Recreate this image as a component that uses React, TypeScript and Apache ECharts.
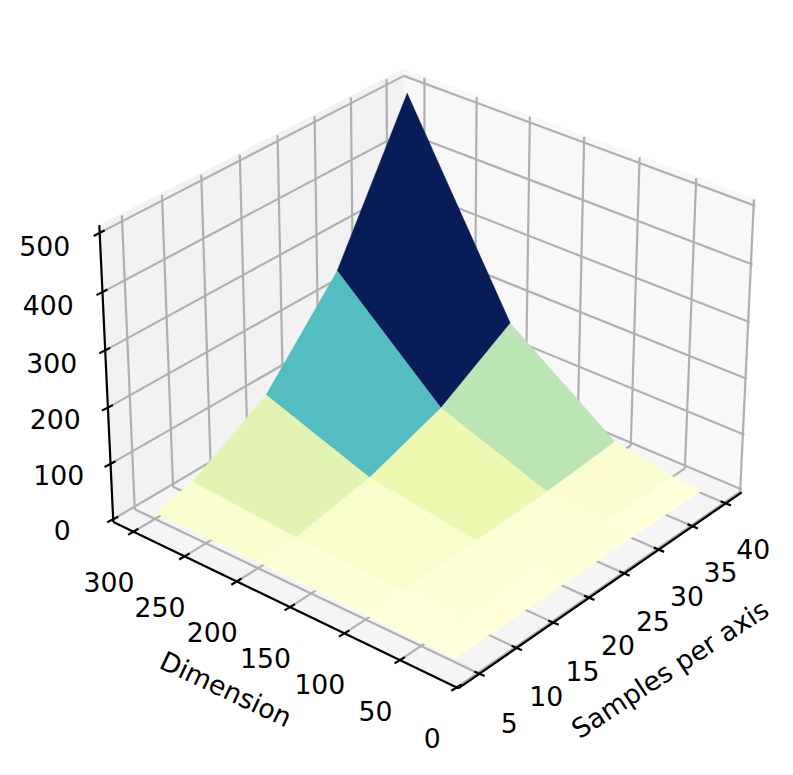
import React, { useEffect, useRef } from "react";
import * as echarts from "echarts";

const sampleValues = [5, 10, 20, 30, 40];
const dimensionValues = [20, 47, 100, 200, 300];
// rows follow dimensionValues, columns follow sampleValues
const timeAtDim20 = [2, 2, 2, 2, 0];
const timeAtDim47 = [2, 3, 3.9, 4.5, 3];
const timeAtDim100 = [3, 3.5, 5.9, 11.2, 21.8];
const timeAtDim200 = [6.7, 7.9, 32.8, 79.9, 158.5];
const timeAtDim300 = [6.4, 21.5, 99.9, 250.1, 498.6];
const heights = [timeAtDim20, timeAtDim47, timeAtDim100, timeAtDim200, timeAtDim300];

const sampleTicks = [5, 10, 15, 20, 25, 30, 35, 40];
const dimensionTicks = [0, 50, 100, 150, 200, 250, 300];
const heightTicks = [0, 100, 200, 300, 400, 500];

const W = 793, H = 775;
const sLo = 2.24, sHi = 42.46, dLo = -1.4, dHi = 320, zLo = -5, zHi = 513;
const O = [458.3, 688.3], X = [741.7, 492.3], Y = [113.3, 522], XY = [404.7, 350];
const XZ = [755.7, 199], YZ = [99.3, 224.3];

// projective map of the unit box, fixed by the box's visible corners
const d1 = [X[0] - XY[0], X[1] - XY[1]], d2 = [Y[0] - XY[0], Y[1] - XY[1]], d3 = [XY[0] - X[0] - Y[0] + O[0], XY[1] - X[1] - Y[1] + O[1]];
const den = d1[0] * d2[1] - d1[1] * d2[0];
const g1 = (d3[0] * d2[1] - d3[1] * d2[0]) / den;
const g2 = (d1[0] * d3[1] - d1[1] * d3[0]) / den;
const g3 = ((1 + g1) * (XZ[0] - X[0]) - (1 + g2) * (YZ[0] - Y[0])) / (YZ[0] - XZ[0]);
const A1 = [(1 + g1) * X[0] - O[0], (1 + g1) * X[1] - O[1]];
const A2 = [(1 + g2) * Y[0] - O[0], (1 + g2) * Y[1] - O[1]];
const A3 = [0, 1].map((k) => ((1 + g1) * (XZ[k] - X[k]) + g3 * XZ[k] + (1 + g2) * (YZ[k] - Y[k]) + g3 * YZ[k]) / 2);
const unit = (u: number, v: number, w: number) => {
  const q = 1 + g1 * u + g2 * v + g3 * w;
  return [(O[0] + u * A1[0] + v * A2[0] + w * A3[0]) / q, (O[1] + u * A1[1] + v * A2[1] + w * A3[1]) / q];
};

const GL = 100, GT = 100, GW = 500, GH = 500;
const project = (api: any, s: number, d: number, z: number) => {
  const c = api.coord([s, d]);
  return unit((c[0] - GL) / GW, (GT + GH - c[1]) / GH, (z - zLo) / (zHi - zLo));
};

const FONT = "DejaVu Sans";
const FONT_SIZE = 26.7;
const anchors = ["#ffffd9", "#edf8b1", "#c7e9b4", "#7fcdbb", "#41b6c4", "#1d91c0", "#225ea8", "#253494", "#081d58"];
const cellAverage = (i: number, j: number) => (heights[j][i] + heights[j][i + 1] + heights[j + 1][i] + heights[j + 1][i + 1]) / 4;
const cells: number[][] = [];
for (let j = dimensionValues.length - 2; j >= 0; j--) for (let i = sampleValues.length - 2; i >= 0; i--) cells.push([i, j]);
const avgs = cells.map(([i, j]) => cellAverage(i, j));
const aMin = Math.min(...avgs), aMax = Math.max(...avgs);

const gridColor = "#b0b0b0";
const line = (a: number[], b: number[], stroke: string, lineWidth = 2.2) => ({
  type: "line", shape: { x1: a[0], y1: a[1], x2: b[0], y2: b[1] }, style: { stroke, lineWidth, lineCap: "butt" },
});
const text = (t: string, x: number, y: number, rotation = 0) => ({
  type: "text", x, y, rotation, style: { text: t, fontFamily: FONT, fontSize: FONT_SIZE, fill: "#000", align: "center", verticalAlign: "middle" },
});

export default function App() {
  const ref = useRef<HTMLDivElement>(null);
  useEffect(() => {
    const chart = echarts.init(ref.current!, null, { renderer: "svg" });
    const scaffold = (_: any, api: any) => {
      const P = (s: number, d: number, z: number) => project(api, s, d, z);
      const poly = (pts: number[][], fill: string) => ({ type: "polygon", shape: { points: pts }, style: { fill } });
      const children: any[] = [
        poly([P(sHi, dLo, zLo), P(sHi, dHi, zLo), P(sHi, dHi, zHi), P(sHi, dLo, zHi)], "#f8f8f8"),
        poly([P(sLo, dHi, zLo), P(sHi, dHi, zLo), P(sHi, dHi, zHi), P(sLo, dHi, zHi)], "#f2f2f2"),
        poly([P(sLo, dLo, zLo), P(sHi, dLo, zLo), P(sHi, dHi, zLo), P(sLo, dHi, zLo)], "#f5f5f5"),
      ];
      const zTop = zHi - 3;
      sampleTicks.forEach((s) => {
        children.push(line(P(s, dLo + 0.5, zLo), P(s, dHi, zLo), gridColor));
        children.push(line(P(s, dHi, zLo), P(s, dHi, zTop), gridColor));
      });
      dimensionTicks.forEach((d) => {
        children.push(line(P(sLo + 0.1, d, zLo), P(sHi, d, zLo), gridColor));
        children.push(line(P(sHi, d, zLo), P(sHi, d, zTop), gridColor));
      });
      heightTicks.forEach((z) => {
        children.push(line(P(sLo, dHi, z), P(sHi, dHi, z), gridColor));
        children.push(line(P(sHi, dHi, z), P(sHi, dLo, z), gridColor));
      });
      return { type: "group", children };
    };
    const surface = (params: any, api: any) => {
      const i = api.value(0), j = api.value(1);
      const P = (a: number, b: number) => project(api, sampleValues[a], dimensionValues[b], heights[b][a]);
      const t = (cellAverage(i, j) - aMin) / (aMax - aMin);
      const fill = echarts.color.lerp(t, anchors);
      return { type: "polygon", shape: { points: [P(i, j), P(i + 1, j), P(i + 1, j + 1), P(i, j + 1)] }, style: { fill, stroke: fill, lineWidth: 0.5 } };
    };
    const axes = (_: any, api: any) => {
      const P = (s: number, d: number, z: number) => project(api, s, d, z);
      const black = "#000";
      const children: any[] = [
        line(P(sLo, dLo, zLo), P(sHi, dLo, zLo), black),
        line(P(sLo, dLo, zLo), P(sLo, dHi, zLo), black),
        line(P(sLo, dHi, zLo), P(sLo, dHi, zHi), black),
      ];
      sampleTicks.forEach((s) => {
        const p = P(s, dLo, zLo);
        children.push(line([p[0] - 5, p[1] - 2.2], [p[0] + 5.4, p[1] + 2.2], black));
        children.push(text(String(s), p[0] + 30 - 0.07 * (s - 5), p[1] + 49.3 - 0.09 * (s - 5)));
      });
      dimensionTicks.forEach((d) => {
        const p = P(sLo, d, zLo);
        children.push(line([p[0] - 5.4, p[1] + 3.2], [p[0] + 5, p[1] - 3], black));
        children.push(text(String(d), p[0] - 24.5, p[1] + 51));
      });
      heightTicks.forEach((z) => {
        const p = P(sLo, dHi, z);
        children.push(line([p[0] - 6, p[1] + 3], [p[0] + 5, p[1] - 2.6], black));
        children.push(text(String(z), p[0] - 51 - 0.008 * z, p[1] + 11 + 0.006 * z));
      });
      children.push(text("Dimension", 226, 689, -0.44));
      children.push(text("Samples per axis", 670, 669, 0.58));
      return { type: "group", children };
    };
    chart.setOption({
      animation: false,
      backgroundColor: "#fff",
      grid: { left: GL, top: GT, width: GW, height: GH },
      xAxis: { type: "value", min: sLo, max: sHi, show: false },
      yAxis: { type: "value", min: dLo, max: dHi, show: false },
      series: [
        { type: "custom", silent: true, clip: false, z: 1, data: [[sLo, dLo]], renderItem: scaffold },
        { type: "custom", silent: true, clip: false, z: 2, data: cells, encode: { x: 0, y: 1 }, renderItem: surface },
        { type: "custom", silent: true, clip: false, z: 3, data: [[sLo, dLo]], renderItem: axes },
      ],
    });
    return () => chart.dispose();
  }, []);
  return <div ref={ref} style={{ position: "absolute", left: 0, top: 0, width: W, height: H }} />;
}
